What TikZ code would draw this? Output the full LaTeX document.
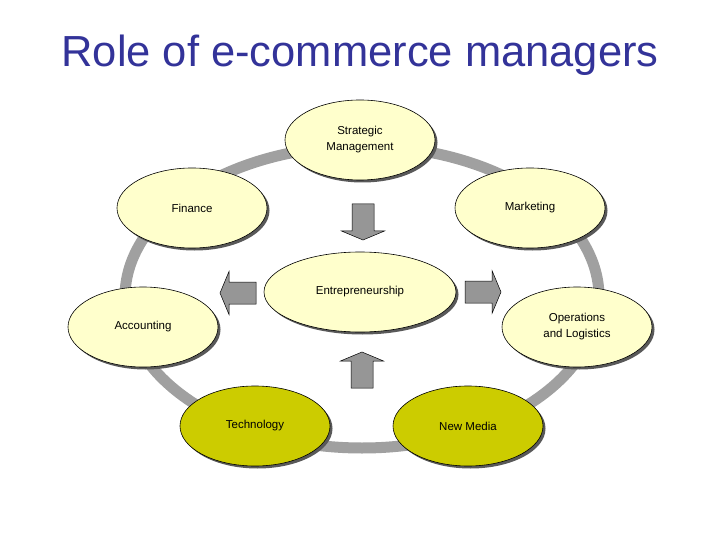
\documentclass[tikz,border=0pt]{standalone}
\usepackage{fontspec}
\setmainfont{Liberation Sans}
\usetikzlibrary{shapes.geometric,shadows}
\definecolor{titleblue}{RGB}{51,51,153}
\definecolor{lightyel}{RGB}{255,255,204}
\definecolor{olive}{RGB}{204,204,0}
\definecolor{ringgray}{RGB}{160,160,160}
\definecolor{arrgray}{RGB}{150,150,150}
\tikzset{
  role/.style={ellipse, draw=black, line width=0.6pt, fill=lightyel, minimum width=150pt, minimum height=80pt, inner sep=0pt, align=center, font=\fontsize{11.5}{16}\selectfont, drop shadow={shadow xshift=2.5pt, shadow yshift=-2.5pt, fill=black!65, opacity=1}},
  hot/.style={role, fill=olive},
  blockarrow/.pic={\draw[black, line width=0.5pt, fill=arrgray] (-18,-11) -- (9,-11) -- (9,-21.5) -- (18,0) -- (9,21.5) -- (9,11) -- (-18,11) -- cycle;}
}
\begin{document}
\begin{tikzpicture}[x=1pt,y=-1pt]
\useasboundingbox (0,0) rectangle (720,540);
\node[font=\fontsize{43.5}{48}\selectfont, text=titleblue] (title) at (360,55) {Role of e-commerce managers};
\draw[ringgray, line width=11pt] (362,297) ellipse [x radius=237, y radius=151];
\node[role] (strat) at (360,140) {Strategic\\Management};
\node[role] (fin) at (192,208) {Finance};
\node[role] (mkt) at (530,208) {Marketing};
\node[role, minimum width=192pt] (ent) at (360,292) {Entrepreneurship};
\node[role] (acc) at (143,327) {Accounting};
\node[role] (ops) at (577,327) {Operations\\and Logistics};
\node[hot] (tech) at (255,426) {Technology};
\node[hot] (nm) at (468,426) {New Media};
\pic[rotate=-90] at (363,222) {blockarrow};
\pic[rotate=180] at (238,293) {blockarrow};
\pic at (483,292) {blockarrow};
\pic[rotate=90] at (362,370) {blockarrow};
\end{tikzpicture}
\end{document}
